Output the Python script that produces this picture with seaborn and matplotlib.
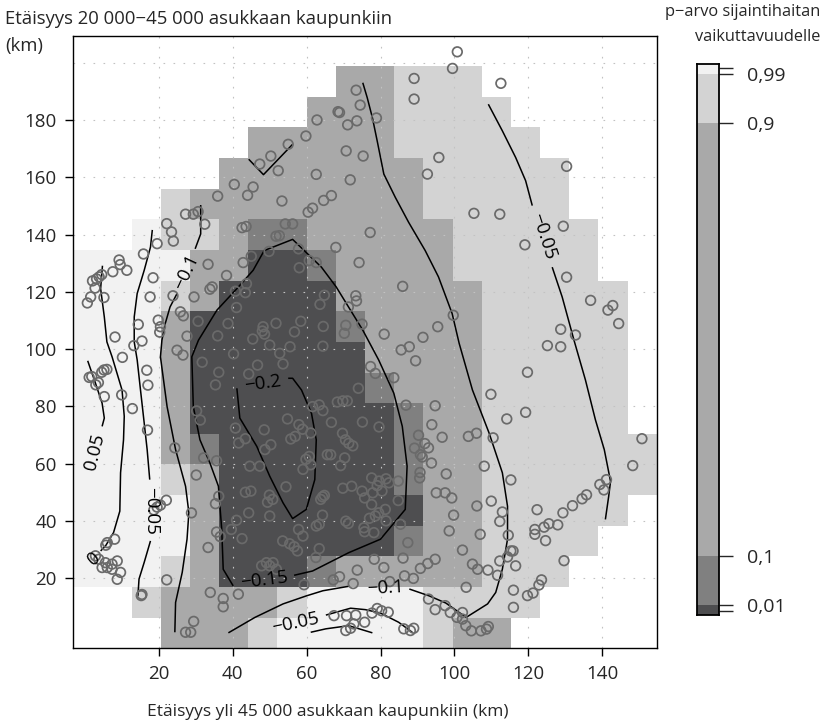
import numpy as np
import pandas as pd
import matplotlib
matplotlib.use("Agg")
import matplotlib.pyplot as plt
from matplotlib.colors import ListedColormap, BoundaryNorm
import seaborn as sns

# ------------------------------------------------------------------ data
# p-value class of each grid cell (rows from top to bottom, 20 x 20 cells)
# 0 = no data, 1 = p<0.01, 2 = 0.01-0.1, 3 = 0.1-0.9, 4 = 0.9-0.99, 5 = >0.99
cell_x0, cell_y0 = -3.2, -4.5
cell_w, cell_h = 7.9, 10.7
p_class_rows = [
    "00000000000000000000",
    "00000000033444000000",
    "00000000333444400000",
    "00000033333444440000",
    "00000333333344444000",
    "00043333333344444000",
    "00544322333334444400",
    "55553311233334444400",
    "55543111133333444440",
    "55531111123333444440",
    "55531111113333444440",
    "55531111112333444440",
    "55531111111233444440",
    "55532111111233444444",
    "55543111111233444444",
    "55553111111133444440",
    "55553111111233444400",
    "55543111233333444000",
    "00433334555544440000",
    "00033345555543300000",
]
class_p = {"0": np.nan, "1": 0.005, "2": 0.05, "3": 0.5, "4": 0.95, "5": 0.995}
p_breaks = [0, 0.01, 0.1, 0.9, 0.99, 1]
p_colors = ["#4e4e50", "#808080", "#a9a9a9", "#d3d3d3", "#f2f2f2"]
cbar_ticks = [0, 0.01, 0.1, 0.9, 0.99, 1]
cbar_labels = ["", "0,01", "0,1", "0,9", "0,99", ""]

x_ticks = [20, 40, 60, 80, 100, 120, 140]
y_ticks = [20, 40, 60, 80, 100, 120, 140, 160, 180]
y_grid = [20, 40, 60, 80, 100, 120, 140, 160, 180, 200]

# municipalities (x = distance to >45 000 town, y = distance to 20 000-45 000 town)
pts_upper_left = [(47.3,164.6),(40.4,157.5),(45.5,156.6),(44.0,153.7),(35.9,153.4),(27.2,147.1),(29.3,147.1),
    (30.6,148.0),(32.4,143.6),(22.1,143.8),(23.4,140.9),(23.9,137.7),(19.5,136.8),(42.5,142.4),(43.6,142.8),
    (15.8,133.2),(9.2,131.1),(9.5,129.5),(7.5,127.0),(11.3,127.5),(4.5,126.0),(3.8,125.2),(3.1,124.5),
    (2.0,123.8),(2.7,121.3),(1.5,118.2),(0.6,116.1),(5.1,118.0),(18.4,124.9),(17.6,118.2),(33.3,129.6),
    (38.3,125.7),(42.8,130.2),(45.0,132.4),(29.5,118.2),(23.8,118.6),(34.4,121.7),(33.8,120.9),(40.7,120.2),
    (43.4,119.7),(43.7,122.8),(41.0,114.5),(25.8,113.0),(26.6,111.6),(19.8,110.1),(20.4,107.8),(20.2,105.9),
    (14.4,108.6),(8.1,104.2),(30.6,109.7),(38.7,108.9),(35.9,104.6),(48.2,107.8),(48.0,106.3),(48.6,105.2),
    (27.6,104.5),(45.4,103.5)]
pts_upper_mid = [(100.8,203.8),(99.5,198.0),(89.1,194.5),(89.1,187.3),(73.4,190.4),(74.5,185.2),(78.9,180.7),
    (68.5,182.9),(68.9,182.6),(71.1,178.3),(73.6,179.7),(62.8,180.0),(59.8,174.4),(55.0,171.5),(50.3,167.4),
    (52.3,162.3),(70.7,169.2),(75.3,167.4),(62.6,161.0),(71.8,159.1),(95.8,166.9),(92.7,161.1),(53.3,151.7),
    (66.7,153.6),(64.6,151.9),(61.6,149.2),(60.4,147.8),(54.2,143.7),(56.2,143.7),(51.7,139.4),(52.6,139.6),
    (49.8,134.1),(57.8,135.0),(58.0,128.4),(60.7,130.9),(62.6,130.2),(67.9,135.5),(77.2,140.7),(74.2,130.2),
    (86.0,121.9),(64.8,118.8),(63.6,115.6),(73.3,118.6),(73.5,116.8),(71.3,114.7),(51.7,109.0),(58.4,109.7),
    (56.7,106.0),(64.5,107.9),(70.6,108.3),(70.2,105.5),(75.0,108.7),(81.0,105.2),(91.5,104.1),(95.5,107.8),
    (99.7,111.8)]
pts_upper_right = [(112.6,192.8),(130.4,163.8),(105.3,147.4),(112.3,147.1),(129.5,142.9),(119.1,136.4),
    (130.4,125.1),(136.9,117.0),(141.6,113.6),(142.9,115.2),(144.5,108.9),(128.8,106.9),(132.8,104.9)]
pts_lower_left = [(15.4,102.8),(13.2,101.2),(10.1,97.1),(5.1,92.7),(5.9,92.9),(4.5,91.9),(1.8,90.4),(1.1,90.1),
    (2.9,87.5),(3.6,88.3),(5.2,83.4),(9.9,84.0),(12.8,79.2),(16.7,92.6),(17.0,87.4),(16.9,71.7),(24.9,99.6),
    (26.5,97.9),(31.7,95.4),(36.2,91.9),(35.3,87.5),(40.2,98.3),(44.3,91.3),(46.7,94.4),(30.2,78.4),(31.2,75.2),
    (40.7,72.4),(43.4,68.7),(41.6,67.2),(48.5,71.8),(24.3,65.5),(32.1,62.0),(35.6,61.0),(30.1,56.0),(36.2,48.6),
    (35.3,46.0),(22.0,47.2),(20.4,45.5),(19.5,44.8),(18.6,43.8),(28.8,42.8),(43.4,50.0),(44.9,50.4),(44.3,42.8),
    (41.0,40.2),(39.6,37.0),(42.5,33.8),(35.6,36.1),(36.6,34.5),(33.3,30.7),(8.0,33.6),(6.0,32.4),(5.6,31.5),
    (2.8,27.8),(3.7,26.6),(5.5,25.4),(7.3,24.9),(8.7,26.0),(6.0,23.7),(7.3,23.1),(9.6,22.0),(8.7,19.6),(4.6,23.7),
    (15.2,13.9),(15.4,14.3),(22.1,19.4),(33.9,15.0),(37.4,12.9),(37.4,10.0),(29.4,4.9),(27.2,1.1),(28.6,1.1),
    (41.5,14.4),(48.7,64.9),(44.6,59.1),(47.3,59.1),(50.0,41.7),(47.8,24.3),(49.1,25.4),(50.0,24.3),(51.8,23.1),
    (50.9,25.4),(50.0,101.4)]
pts_lower_mid = [(55.5,100.8),(52.7,98.5),(53.6,94.8),(64.4,101.0),(85.6,99.7),(87.8,100.8),(89.5,95.9),
    (77.3,93.9),(78.6,91.5),(83.6,90.0),(74.0,86.3),(86.9,80.4),(94.8,80.2),(93.9,73.6),(96.7,69.2),(90.3,69.9),
    (89.2,65.4),(92.0,67.0),(93.0,65.5),(90.8,63.1),(91.3,62.3),(93.8,60.2),(97.8,56.4),(95.1,49.8),(97.5,49.8),
    (99.3,48.0),(99.8,42.0),(98.6,36.5),(90.6,55.0),(90.7,56.9),(84.8,47.1),(85.4,38.8),(87.4,32.4),(86.1,27.0),
    (78.3,26.6),(80.9,23.7),(73.7,22.8),(68.9,20.5),(67.2,19.4),(72.6,18.1),(82.5,18.8),(86.5,20.8),(88.9,19.9),
    (90.8,23.4),(92.8,25.1),(94.8,26.6),(59.3,17.7),(62.5,27.2),(63.4,30.3),(55.4,32.0),(56.6,31.0),(57.5,29.5),
    (53.5,33.0),(59.0,34.7),(57.8,37.0),(62.6,38.2),(63.4,38.8),(64.3,42.0),(70.6,39.9),(71.3,39.1),(75.5,37.6),
    (75.7,36.2),(78.2,35.9),(77.0,40.9),(78.6,41.7),(81.5,40.0),(81.3,44.0),(79.5,42.8),(77.6,45.7),(75.7,48.0),
    (75.0,50.4),(77.6,55.0),(79.1,52.3),(79.6,53.9),(81.5,54.7),(82.3,53.3),(77.9,49.8),(80.4,50.4),(84.8,53.9),
    (72.2,52.1),(69.8,51.4),(64.3,48.4),(64.8,48.9),(63.8,47.5),(54.4,51.9),(49.9,49.0),(50.8,47.5),(49.4,46.5),
    (59.8,61.5),(60.7,62.5),(61.1,59.6),(59.0,58.0),(65.6,63.1),(66.5,63.1),(70.3,62.0),(69.2,59.3),(70.5,68.3),
    (71.4,67.1),(72.5,66.2),(69.7,70.6),(75.1,74.5),(79.6,72.8),(66.7,74.4),(69.8,81.9),(68.3,81.5),(71.0,81.9),
    (63.4,80.5),(61.6,79.9),(64.4,78.5),(57.9,73.6),(58.9,72.0),(56.9,69.5),(55.7,68.6),(54.8,75.6),(61.1,70.7),
    (50.3,66.6),(67.4,6.9),(70.8,6.9),(73.3,7.1),(75.7,4.6),(72.8,4.0),(70.6,1.7),(71.9,2.5),(77.7,7.8),(79.1,9.4),
    (80.3,8.6),(82.1,8.1),(86.3,2.3),(88.1,1.7),(89.0,2.5),(93.0,12.7),(94.8,9.0),(97.5,10.4),(98.9,8.0),
    (100.7,6.3)]
pts_lower_right = [(125.2,101.2),(128.8,100.8),(119.8,91.9),(109.9,84.2),(119.3,77.9),(114.2,75.6),(103.8,69.5),
    (106.0,70.6),(110.5,69.0),(108.1,59.1),(115.3,54.3),(150.8,68.7),(148.3,59.3),(139.4,52.7),(141.2,54.4),
    (140.5,50.8),(134.6,47.7),(135.8,49.1),(132.0,45.3),(129.4,42.8),(128.0,38.6),(125.6,39.0),(124.3,37.8),
    (121.8,37.0),(121.8,35.3),(124.7,33.1),(122.4,43.9),(129.7,26.1),(110.0,46.9),(113.0,43.1),(112.3,39.8),
    (106.1,45.2),(107.0,35.3),(114.6,35.0),(102.2,29.8),(115.3,29.5),(115.9,29.5),(112.3,26.0),(114.4,27.4),
    (116.6,24.3),(104.9,24.9),(106.3,23.1),(109.1,22.8),(111.7,21.0),(103.2,16.8),(116.0,15.8),(116.0,9.8),
    (119.8,13.9),(121.3,14.8),(122.9,17.6),(123.6,19.4),(102.2,8.0),(102.2,5.7),(103.1,3.4),(104.6,1.6),
    (107.2,1.6),(108.7,2.2),(109.2,3.1)]

# contour lines of the location-handicap effect (segments broken at labels)
cont_m010_main = [
    [(75.2,193.0),(76.4,187.8),(77.8,180.8),(79.1,172.7),(80.9,161.1),(84.0,153.0),(87.6,144.3),(92.1,134.4),
     (95.7,125.2),(99.4,112.4),(101.3,102.0),(104.9,85.7),(109.4,70.7),(113.0,56.8),(114.4,45.1),(114.4,33.6),
     (113.0,23.1),(111.2,15.0),(109.0,11.0),(103.2,6.3),(97.7,11.3),(93.2,13.8),(87.8,16.2)],
    [(71.6,17.2),(64.4,15.6),(59.9,13.8),(53.6,11.0),(46.0,6.3),(38.8,0.9)]]
cont_m005_right = [
    [(109.2,185.5),(113.0,176.2),(116.6,166.9),(119.3,158.8),(121.1,150.1)],
    [(126.5,128.6),(129.2,118.2),(132.4,103.1),(135.5,89.2),(138.2,75.3),(140.6,64.9),(142.3,53.8),
     (141.8,48.6),(140.9,40.5)]]
cont_m015 = [
    [(40.1,17.3),(37.4,23.1),(37.0,37.0),(36.1,52.1),(33.8,60.2),(31.1,68.3),(29.3,79.9),(28.9,97.3),
     (30.7,103.1),(35.7,113.6),(41.1,121.1),(45.5,127.5),(48.5,134.4),(56.2,138.3),(64.0,128.6),(68.0,121.7),
     (75.2,106.6),(79.5,96.2),(83.6,84.6),(85.9,73.0),(87.2,59.1),(86.7,44.0),(80.0,33.6),(71.4,28.9),
     (61.6,22.5),(56.6,21.0)]]
cont_m020 = [
    [(41.1,86.3),(41.9,75.9),(46.5,66.0),(50.0,55.6),(53.6,46.3),(56.2,40.8),(59.9,44.0),(62.2,54.4),
     (62.6,68.3),(61.3,77.6),(58.6,85.7),(56.2,89.8),(55.0,89.8)]]
cont_m010_left = [
    [(31.3,150.3),(31.3,140.2),(29.8,135.0)],
    [(24.9,119.4),(23.0,114.7),(21.7,108.9),(20.8,103.1),(20.4,97.3),(22.2,79.9),(24.5,64.9),(27.2,52.1),
     (28.1,42.9),(27.6,33.6),(26.3,22.0),(24.5,11.5),(24.3,1.1)]]
cont_m005_left = [
    [(18.2,141.6),(17.7,135.6),(16.0,127.5),(14.1,119.4),(13.3,111.2),(13.3,102.5),(14.1,96.2),(15.0,85.7),
     (16.0,74.2),(16.8,64.9),(17.5,54.4)],
    [(17.7,33.0),(16.0,25.5),(14.6,19.7),(14.3,13.8)]]
cont_p005 = [[(0.7,95.9),(2.8,88.1),(4.6,81.1),(5.2,75.9),(4.6,73.0)]]
cont_zero = [[(4.7,129.1),(4.2,121.1),(5.2,111.2),(5.9,102.5),(7.3,97.3),(10.0,85.7),(10.6,76.5),(10.4,68.3),
     (9.6,56.8),(9.4,43.4),(7.7,35.9),(5.5,31.2),(4.2,29.5)]]
cont_m005_bottom = [
    [(65.2,7.1),(71.9,9.5),(75.9,9.0),(80.0,7.8),(84.9,4.6),(88.6,1.1)],
    [(61.1,1.1),(65.2,2.3),(71.4,3.4),(77.8,0.9)]]
cont_m010_top = [[(44.3,166.3),(48.3,160.9),(56.2,171.5)]]

# contour labels: text, x, y, rotation
contour_labels = [
    ("\u22120.1", 81.3, 16.4, 3),
    ("\u22120.05", 124.0, 139.3, -72),
    ("\u22120.15", 48.6, 19.4, 7),
    ("\u22120.2", 48.0, 88.0, 8),
    ("\u22120.1", 27.3, 126.9, 65),
    ("\u22120.05", 17.9, 43.6, -90),
    ("0.05", 2.6, 64.0, 76),
    ("0", 2.4, 26.8, 40),
    ("\u22120.05", 57.0, 4.2, 12),
]

# ------------------------------------------------------------------ figure
sns.set_theme(style="white")
plt.rcParams["font.family"] = ["Open Sans", "DejaVu Sans"]
plt.rcParams["axes.unicode_minus"] = True

W, H = 823, 726
fig = plt.figure(figsize=(W / 100, H / 100), dpi=100)
ax = fig.add_axes([73.3 / W, 1 - 648.3 / H, (656.7 - 73.3) / W, (648.3 - 35.5) / H])

codes = np.array([[class_p[c] for c in row] for row in p_class_rows[::-1]])
nrow, ncol = codes.shape
x_edges = cell_x0 + cell_w * np.arange(ncol + 1)
y_edges = cell_y0 + cell_h * np.arange(nrow + 1)
cmap = ListedColormap(p_colors)
norm = BoundaryNorm(p_breaks, cmap.N)
ax.pcolormesh(x_edges, y_edges, np.ma.masked_invalid(codes), cmap=cmap, norm=norm,
              shading="flat", zorder=1, linewidth=0, antialiased=False)

# dotted grid
for gx in x_ticks:
    ax.axvline(gx, color="#c2c2c2", lw=0.8, ls=(0, (1.5, 7.5)), zorder=2)
for gy in y_grid:
    ax.axhline(gy, color="#c2c2c2", lw=0.8, ls=(0, (1.5, 7.5)), zorder=2)

# contour lines
for segs in [cont_m010_main, cont_m005_right, cont_m015, cont_m020, cont_m010_left,
             cont_m005_left, cont_p005, cont_zero, cont_m005_bottom, cont_m010_top]:
    for seg in segs:
        xs, ys = zip(*seg)
        ax.plot(xs, ys, color="black", lw=1.1, zorder=3, solid_capstyle="butt")
for txt, lx, ly, rot in contour_labels:
    ax.text(lx, ly, txt, rotation=rot, rotation_mode="anchor", ha="center", va="center",
            fontsize=13.5, color="black", zorder=5)

# points
all_pts = pts_upper_left + pts_upper_mid + pts_upper_right + pts_lower_left + pts_lower_mid + pts_lower_right
df = pd.DataFrame(all_pts, columns=["x", "y"])
sns.scatterplot(data=df, x="x", y="y", ax=ax, marker="o", s=48, facecolors="none",
                edgecolor="#6a6a6a", linewidth=1.25, zorder=4, legend=False)

ax.set_xlim(x_edges[0], x_edges[-1])
ax.set_ylim(y_edges[0], y_edges[-1])
ax.set_xticks(x_ticks)
ax.set_yticks(y_ticks)
ax.set_xticklabels([str(v) for v in x_ticks])
ax.set_yticklabels([str(v) for v in y_ticks])
ax.tick_params(axis="both", direction="out", length=6, width=1.0, color="black",
               labelsize=13.5, pad=6, bottom=True, left=True)
ax.set_xlabel("")
ax.set_ylabel("")
for sp in ax.spines.values():
    sp.set_visible(True)
    sp.set_color("black")
    sp.set_linewidth(1.0)

fig.text(5 / W, 1 - 19 / H, "Etäisyys 20 000\u221245 000 asukkaan kaupunkiin", ha="left", va="center",
         fontsize=13.3)
fig.text(5 / W, 1 - 46 / H, "(km)", ha="left", va="center", fontsize=13.3)
fig.text(327.5 / W, 1 - 712 / H, "Etäisyys yli 45 000 asukkaan kaupunkiin (km)", ha="center",
         va="center", fontsize=12.5)

# colour key
cax = fig.add_axes([697 / W, 1 - 615 / H, 22 / W, (615 - 64) / H])
lo, hi = -0.008, 1.008
bounds = [lo] + p_breaks[1:-1] + [hi]
for i, col in enumerate(p_colors):
    cax.bar(0, bounds[i + 1] - bounds[i], bottom=bounds[i], width=1, color=col, linewidth=0)
cax.set_xlim(-0.5, 0.5)
cax.set_ylim(lo, hi)
cax.set_xticks([])
cax.yaxis.tick_right()
cax.set_yticks(cbar_ticks)
cax.set_yticklabels(cbar_labels)
cax.tick_params(axis="y", direction="out", length=10, width=1.0, labelsize=14, pad=10, right=True)
for sp in cax.spines.values():
    sp.set_visible(True)
    sp.set_color("black")
    sp.set_linewidth(1.3)
fig.text(820 / W, 1 - 12 / H, "p\u2212arvo sijaintihaitan", ha="right", va="center", fontsize=11.8)
fig.text(820 / W, 1 - 37 / H, "vaikuttavuudelle", ha="right", va="center", fontsize=11.8)

fig.savefig("out.png", dpi=100)
